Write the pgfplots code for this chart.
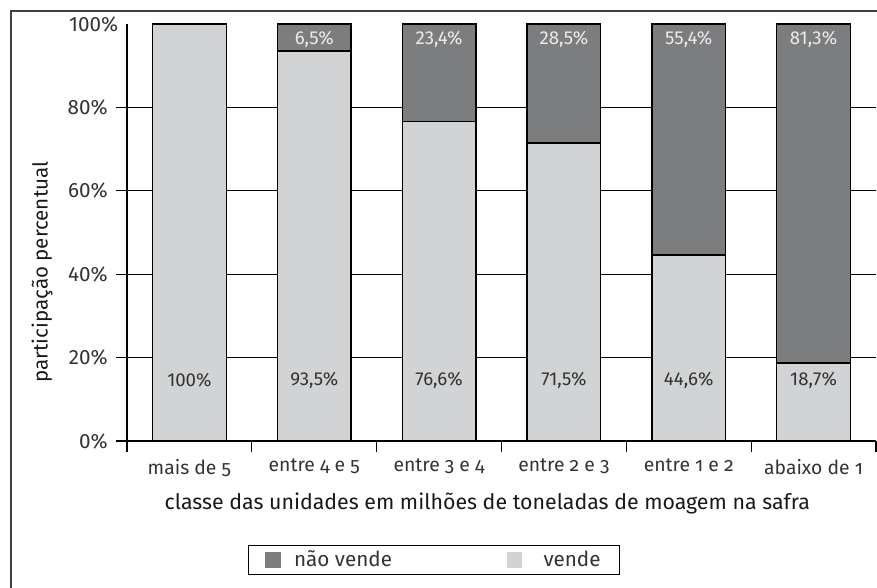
\documentclass[border=0pt]{standalone}
\usepackage{pgfplots}
\pgfplotsset{compat=1.18}
\usepackage{fontspec}
\setmainfont{Fira Sans}
\newfontfamily\osf{Fira Sans}[Numbers=OldStyle]
\definecolor{dark}{HTML}{7B7D7F}
\definecolor{light}{HTML}{D1D3D5}
\definecolor{txt}{HTML}{333333}
\pgfplotstableread{
x vende naovende
0 100  0
1 93.5 6.5
2 76.6 23.4
3 71.5 28.5
4 44.6 55.4
5 18.7 81.3
}\datatab
\pgfplotstableread{
x y v
0 14.6 100
1 14.6 93.5
2 14.6 76.6
3 14.6 71.5
4 14.6 44.6
5 14.6 18.7
}\lowlab
\pgfplotstableread{
x y v
1 96.4 6.5
2 96.4 23.4
3 96.4 28.5
4 96.4 55.4
5 96.4 81.3
}\uplab
\begin{document}
\begin{tikzpicture}
\begin{axis}[
  at={(0,0)}, anchor=south west,
  width=561.75pt, height=312.75pt, scale only axis,
  xmin=-0.5, xmax=5.5, ymin=0, ymax=100,
  axis x line=bottom, axis y line=left,
  axis line style={-, line width=0.9pt, black},
  x axis line style={shorten <=-6.75pt},
  xtick={-0.5,0.5,...,5.5},
  x tick label as interval,
  xticklabels={mais de 5, entre 4 e 5, entre 3 e 4, entre 2 e 3, entre 1 e 2, abaixo de 1},
  xticklabel style={font=\osf\fontsize{14.5}{16}\selectfont, text=txt, yshift=-2pt},
  ytick={0,20,...,80},
  extra y ticks={100},
  extra y tick style={major tick length=0pt, grid=none},
  yticklabel={\pgfmathprintnumber{\tick}\%},
  yticklabel style={font=\fontsize{15.5}{17}\selectfont, text=txt, xshift=-3pt, /pgf/number format/assume math mode=true},
  ymajorgrids, grid style={black, line width=0.8pt},
  tick align=outside, major tick length=8pt,
  tick style={black, line width=0.8pt},
  ybar stacked, bar width=0.59,
  xlabel={classe das unidades em milhões de toneladas de moagem na safra},
  xlabel style={at={(axis description cs:0.481,-0.149)}, anchor=center, font=\fontsize{16}{18}\selectfont, text=black!90},
  ylabel={participação percentual},
  ylabel style={at={(axis description cs:-0.1135,0.405)}, anchor=center, font=\fontsize{15.4}{18}\selectfont, text=black!90},
  legend columns=2,
  reverse legend,
  legend style={at={(axis description cs:0.41,-0.285)}, anchor=center, draw=black, line width=0.8pt,
    font=\fontsize{15.5}{17}\selectfont, text=txt, inner xsep=12.5pt, inner ysep=2pt,
    /tikz/every even column/.append style={column sep=84.5pt}},
  legend cell align=left,
]
\addplot[fill=light, draw=black, line width=1.1pt,
  legend image code/.code={\fill[light] (0pt,-5.5pt) rectangle (10pt,5.5pt); \path (24pt,0pt);}]
  table[x=x, y=vende]{\datatab};
\addlegendentry{vende\hspace{9pt}}
\addplot[fill=dark, draw=black, line width=1.1pt,
  legend image code/.code={\fill[dark] (0pt,-5.5pt) rectangle (11pt,5.5pt); \path (18.75pt,0pt);}]
  table[x=x, y=naovende]{\datatab};
\addlegendentry{não vende}
\end{axis}
\begin{axis}[
  at={(0,0)}, anchor=south west,
  width=561.75pt, height=312.75pt, scale only axis,
  xmin=-0.5, xmax=5.5, ymin=0, ymax=100,
  hide axis,
  nodes near coords={\pgfmathprintnumber[assume math mode=true, use comma, fixed, precision=1]{\pgfplotspointmeta}\%},
  point meta=explicit,
]
\addplot[draw=none, mark=none, nodes near coords style={anchor=center, text=txt, font=\fontsize{14}{16}\selectfont}]
  table[x=x, y=y, meta=v]{\lowlab};
\addplot[draw=none, mark=none, nodes near coords style={anchor=center, text=white!92!black, font=\fontsize{14}{16}\selectfont}]
  table[x=x, y=y, meta=v]{\uplab};
\end{axis}
\draw[line width=1.2pt, black!75] (-87pt,-120pt) -- (-87pt,322.5pt) -- (580pt,322.5pt);
\pgfresetboundingbox
\useasboundingbox (-95.25pt,-110.25pt) rectangle (562.5pt,330.75pt);
\end{tikzpicture}
\end{document}
